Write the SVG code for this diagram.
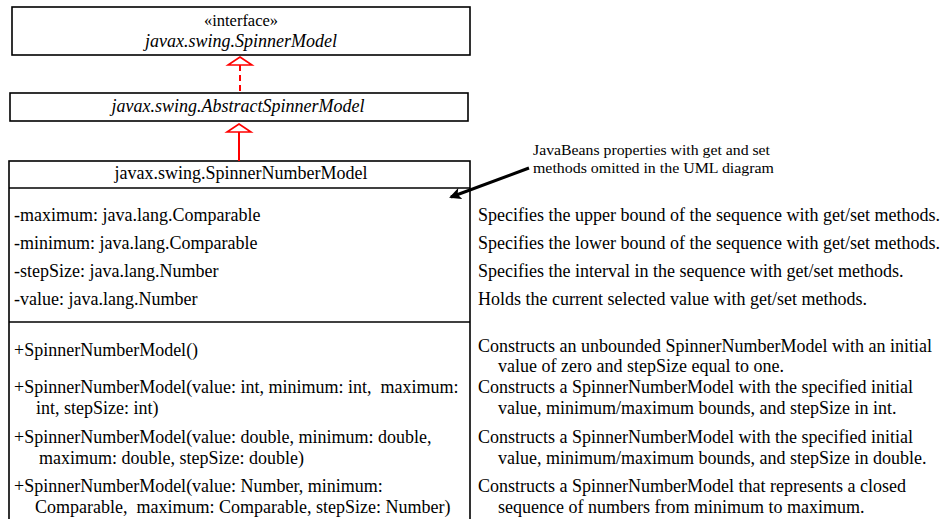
<svg xmlns="http://www.w3.org/2000/svg" width="952" height="519" viewBox="0 0 952 519">
<style>
text{font-family:"Liberation Serif","Times New Roman",serif;font-size:18px;fill:#000}
.it{font-style:italic}
.mid{text-anchor:middle}
.st{font-size:16.5px}
.box{fill:#fff;stroke:#000;stroke-width:1.6}
.div{stroke:#000;stroke-width:1.6}
.gen{fill:#fff;stroke:#f00;stroke-width:1.6}
.red{stroke:#f00;stroke-width:2;fill:none}
.note{font-size:15px}
</style>
<defs>
<marker id="ah" markerWidth="12" markerHeight="12" refX="10" refY="6" orient="auto" markerUnits="userSpaceOnUse">
<path d="M0,0 L12,6 L0,12 L3,6 Z" fill="#000"/>
</marker>
</defs>
<g id="SpinnerModel">
<rect class="box" x="12" y="7" width="458" height="48"/>
<text class="mid st" x="241" y="26">«interface»</text>
<text class="mid it" x="241" y="47">javax.swing.SpinnerModel</text>
</g>
<g id="AbstractSpinnerModel">
<rect class="box" x="10" y="93" width="458" height="28"/>
<text class="mid it" x="238" y="112">javax.swing.AbstractSpinnerModel</text>
</g>
<g id="SpinnerNumberModel">
<rect class="box" x="9" y="161" width="461" height="370"/>
<line class="div" x1="9" y1="188" x2="470" y2="188"/>
<line class="div" x1="9" y1="322" x2="470" y2="322"/>
<text class="mid" x="241" y="179">javax.swing.SpinnerNumberModel</text>
<text x="14" y="221">-maximum: java.lang.Comparable</text>
<text x="14" y="249">-minimum: java.lang.Comparable</text>
<text x="14" y="277">-stepSize: java.lang.Number</text>
<text x="14" y="305">-value: java.lang.Number</text>
<text x="14" y="356">+SpinnerNumberModel()</text>
<text x="14" y="393" xml:space="preserve">+SpinnerNumberModel(value: int, minimum: int,  maximum:</text>
<text x="36" y="414">int, stepSize: int)</text>
<text x="14" y="443">+SpinnerNumberModel(value: double, minimum: double,</text>
<text x="39" y="464">maximum: double, stepSize: double)</text>
<text x="14" y="492">+SpinnerNumberModel(value: Number, minimum:</text>
<text x="35" y="513" xml:space="preserve">Comparable,  maximum: Comparable, stepSize: Number)</text>
</g>
<g id="descriptions">
<text x="478" y="221">Specifies the upper bound of the sequence with get/set methods.</text>
<text x="478" y="249">Specifies the lower bound of the sequence with get/set methods.</text>
<text x="478" y="277">Specifies the interval in the sequence with get/set methods.</text>
<text x="478" y="305">Holds the current selected value with get/set methods.</text>
<text x="478" y="352">Constructs an unbounded SpinnerNumberModel with an initial</text>
<text x="498" y="372">value of zero and stepSize equal to one.</text>
<text x="478" y="393">Constructs a SpinnerNumberModel with the specified initial</text>
<text x="498" y="414">value, minimum/maximum bounds, and stepSize in int.</text>
<text x="478" y="443">Constructs a SpinnerNumberModel with the specified initial</text>
<text x="498" y="464">value, minimum/maximum bounds, and stepSize in double.</text>
<text x="478" y="492">Constructs a SpinnerNumberModel that represents a closed</text>
<text x="498" y="513">sequence of numbers from minimum to maximum.</text>
</g>
<g id="note">
<text class="note" x="533" y="155" textLength="237" lengthAdjust="spacingAndGlyphs">JavaBeans properties with get and set</text>
<text class="note" x="533" y="173" textLength="241" lengthAdjust="spacingAndGlyphs">methods omitted in the UML diagram</text>
</g>
<g id="connectors">
<line class="red" x1="240" y1="65" x2="240" y2="93" stroke-dasharray="6,4"/>
<polygon class="gen" points="240,57 252,65 228,65"/>
<line class="red" x1="239" y1="132" x2="239" y2="161"/>
<polygon class="gen" points="239,124 251,132 227,132"/>
<line x1="529" y1="168" x2="451" y2="197" stroke="#000" stroke-width="3" marker-end="url(#ah)"/>
</g>
</svg>
